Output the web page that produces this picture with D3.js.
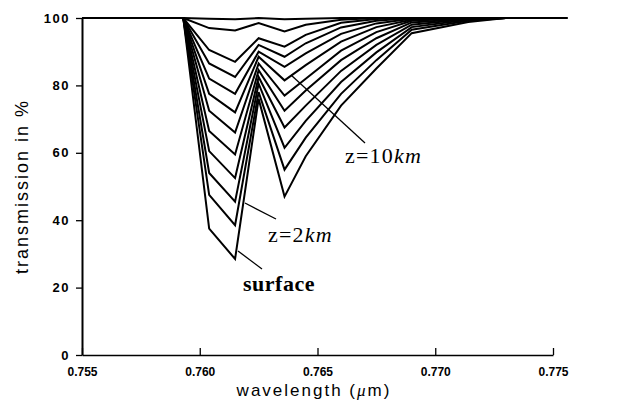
<!DOCTYPE html>
<html>
<head>
<meta charset="utf-8">
<script src="https://cdn.jsdelivr.net/npm/d3@7"></script>
<style>
  html, body { margin: 0; padding: 0; background: #fff; }
  svg { display: block; }
</style>
</head>
<body>
<svg id="chart" width="623" height="403"></svg>
<script>
// Wavelength grid (µm) shared by every profile
const wavelengths = [0.7550, 0.7593, 0.7604, 0.7615, 0.7625, 0.7636, 0.7645,
                     0.7660, 0.7675, 0.7690, 0.7714, 0.7730, 0.7756];

// Transmission (%) profiles across the O2 A-band, lowest level first
const level0  = [100, 100, 37.5, 28.5, 76.0, 47.0, 59.0, 74.0, 85.0, 95.5, 98.8, 100, 100];
const level1  = [100, 100, 47.5, 38.5, 78.0, 55.0, 64.5, 77.5, 87.5, 96.5, 99.2, 100, 100];
const level2  = [100, 100, 54.0, 45.5, 80.5, 61.5, 69.5, 81.0, 89.8, 97.3, 99.5, 100, 100];
const level3  = [100, 100, 60.5, 52.5, 82.5, 67.5, 74.0, 84.3, 92.0, 98.0, 99.7, 100, 100];
const level4  = [100, 100, 66.5, 59.5, 84.5, 72.5, 78.5, 87.5, 94.0, 98.7, 99.8, 100, 100];
const level5  = [100, 100, 72.5, 66.0, 86.5, 77.0, 82.0, 90.3, 95.8, 99.2, 100, 100, 100];
const level6  = [100, 100, 77.5, 72.0, 88.5, 81.5, 86.0, 93.0, 97.3, 99.5, 100, 100, 100];
const level7  = [100, 100, 82.0, 77.5, 90.0, 85.5, 89.5, 95.3, 98.4, 99.8, 100, 100, 100];
const level8  = [100, 100, 86.5, 82.5, 92.0, 88.5, 92.5, 97.2, 99.2, 100, 100, 100, 100];
const level9  = [100, 100, 90.5, 87.0, 94.0, 91.5, 95.0, 98.6, 99.7, 100, 100, 100, 100];
const level10 = [100, 100, 97.0, 96.3, 98.5, 96.0, 98.0, 99.5, 100, 100, 100, 100, 100];
const level11 = [100, 100, 99.8, 99.6, 100, 99.6, 99.8, 100, 100, 100, 100, 100, 100];

const profiles = [level0, level1, level2, level3, level4, level5,
                  level6, level7, level8, level9, level10, level11];

// Axis ticks
const xTicks = [0.755, 0.760, 0.765, 0.770, 0.775];
const yTicks = [0, 20, 40, 60, 80, 100];

const svg = d3.select("#chart");

const x = d3.scaleLinear().domain([0.755, 0.775]).range([82, 553]);
const y = d3.scaleLinear().domain([0, 100]).range([355, 18]);

const tickFont = "'Liberation Sans', Arial, sans-serif";
const serif = "'Liberation Serif', 'Times New Roman', serif";

// Curves
const line = d3.line()
  .x((d, i) => x(wavelengths[i]))
  .y(d => y(d));

svg.append("g")
  .selectAll("path")
  .data(profiles)
  .join("path")
  .attr("d", line)
  .attr("fill", "none")
  .attr("stroke", "#000")
  .attr("stroke-width", 2)
  .attr("stroke-linejoin", "miter");

// Y axis
const yAxis = svg.append("g")
  .attr("transform", `translate(${x(0.755)},0)`)
  .call(d3.axisLeft(y).tickValues(yTicks).tickSizeInner(6).tickSizeOuter(0)
        .tickPadding(6).tickFormat(d3.format("d")));
yAxis.select(".domain").attr("stroke-width", 2);
yAxis.selectAll(".tick line").attr("stroke-width", 1.3);
yAxis.selectAll("text")
  .attr("font-family", tickFont).attr("font-weight", "bold")
  .attr("font-size", 13).attr("letter-spacing", 1.5).attr("fill", "#000");

// X axis, ticks pointing into the plot
const xAxis = svg.append("g")
  .attr("transform", `translate(0,${y(0)})`)
  .call(d3.axisBottom(x).tickValues(xTicks).tickSizeInner(-7).tickSizeOuter(0)
        .tickPadding(12).tickFormat(d3.format(".3f")));
xAxis.select(".domain").attr("stroke-width", 1.5);
xAxis.selectAll(".tick line").attr("stroke-width", 1.3);
xAxis.selectAll("text")
  .attr("font-family", tickFont).attr("font-weight", "bold")
  .attr("font-size", 12).attr("fill", "#000");

// Axis titles
svg.append("text")
  .attr("transform", `translate(28,${(y(0) + y(100)) / 2}) rotate(-90)`)
  .attr("text-anchor", "middle")
  .attr("font-family", tickFont)
  .attr("font-size", 18)
  .attr("letter-spacing", 2)
  .text("transmission in %");

const xTitle = svg.append("text")
  .attr("x", 314).attr("y", 396)
  .attr("text-anchor", "middle")
  .attr("font-family", tickFont)
  .attr("font-size", 17)
  .attr("letter-spacing", 2);
xTitle.append("tspan").text("wavelength (");
xTitle.append("tspan").attr("font-style", "italic")
  .attr("font-family", serif).text("μ");
xTitle.append("tspan").text("m)");

// Annotations with leader lines
const leaders = [
  [[238, 251], [262, 269]],
  [[245, 203], [276, 219]],
  [[291, 75], [365, 143]]
];
svg.append("g").selectAll("line")
  .data(leaders)
  .join("line")
  .attr("x1", d => d[0][0]).attr("y1", d => d[0][1])
  .attr("x2", d => d[1][0]).attr("y2", d => d[1][1])
  .attr("stroke", "#000").attr("stroke-width", 1.3);

svg.append("text")
  .attr("x", 243).attr("y", 291)
  .attr("font-family", serif).attr("font-size", 22).attr("font-weight", "bold")
  .attr("letter-spacing", 0.5)
  .text("surface");

const z2 = svg.append("text")
  .attr("x", 268).attr("y", 242)
  .attr("font-family", serif).attr("font-size", 22).attr("letter-spacing", 1.2);
z2.append("tspan").text("z=2");
z2.append("tspan").attr("font-style", "italic").text("km");

const z10 = svg.append("text")
  .attr("x", 345).attr("y", 163)
  .attr("font-family", serif).attr("font-size", 22).attr("letter-spacing", 1.2);
z10.append("tspan").text("z=10");
z10.append("tspan").attr("font-style", "italic").text("km");
</script>
</body>
</html>
